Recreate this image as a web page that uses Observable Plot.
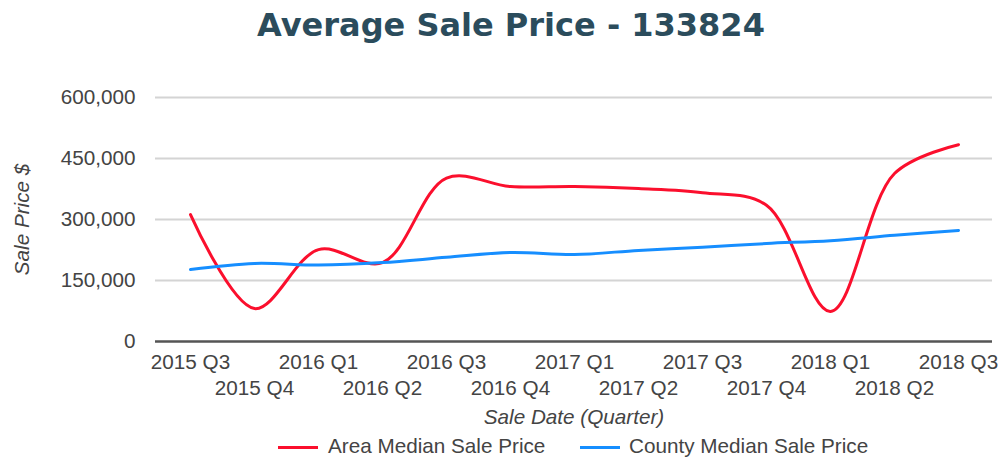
<!DOCTYPE html>
<html>
<head>
<meta charset="utf-8">
<script src="https://cdn.jsdelivr.net/npm/d3@7"></script>
<script src="https://cdn.jsdelivr.net/npm/@observablehq/plot@0.6"></script>
<style>
  html, body { margin: 0; padding: 0; background: #fff; }
  body { width: 1002px; height: 458px; overflow: hidden; font-family: "Liberation Sans", Arial, sans-serif; }
  #title { height: 56px; line-height: 50px; text-align: center; font-family: "DejaVu Sans", sans-serif; font-weight: 700; font-size: 32px; color: #2b4c5c; padding-left: 20px; box-sizing: border-box; }
  #legend { position: relative; height: 26px; font-size: 20.7px; color: #444; }
  #legend .sw { position: absolute; top: 14px; width: 40px; height: 3px; }
  #legend .lb { position: absolute; top: 3px; line-height: 22px; white-space: nowrap; }
</style>
</head>
<body>
<div id="title">Average Sale Price - 133824</div>
<div id="chart"></div>
<div id="legend"></div>
<script>
const quarters = ["2015 Q3","2015 Q4","2016 Q1","2016 Q2","2016 Q3","2016 Q4","2017 Q1","2017 Q2","2017 Q3","2017 Q4","2018 Q1","2018 Q2","2018 Q3"];
const areaMedian = [312000, 81000, 226000, 194000, 402000, 381000, 381000, 376000, 366000, 335000, 74000, 413000, 484000];
const countyMedian = [177000, 192000, 188000, 194000, 207000, 219000, 214000, 224000, 232000, 241000, 248000, 261000, 273000];
const seriesNames = ["Area Median Sale Price", "County Median Sale Price"];
const seriesColors = ["#fb0f2d", "#168eff"];
const yTicks = [0, 150000, 300000, 450000, 600000];

const rows = [];
quarters.forEach((q, i) => {
  rows.push({q, v: areaMedian[i], s: seriesNames[0]});
  rows.push({q, v: countyMedian[i], s: seriesNames[1]});
});

const txt = {fill: "#444", fontSize: 20.7};

const chart = Plot.plot({
  width: 1002,
  height: 376,
  marginLeft: 155,
  marginRight: 10,
  marginTop: 41,
  marginBottom: 91,
  style: {fontFamily: '"Liberation Sans", Arial, sans-serif', overflow: "visible", background: "#fff"},
  x: {type: "point", domain: quarters, range: [189, 958], padding: 0, axis: null},
  y: {domain: [0, 600000], axis: null},
  color: {domain: seriesNames, range: seriesColors},
  marks: [
    Plot.ruleY(yTicks.filter(d => d > 0), {stroke: "#d4d4d4", strokeWidth: 2}),
    Plot.axisY({ticks: yTicks, tickSize: 0, tickPadding: 20, tickFormat: d3.format(","), fontSize: 20.7, fill: "#444", label: null}),
    Plot.text(["Sale Price $"], {frameAnchor: "left", dx: -133, rotate: -90, textAnchor: "middle", fontStyle: "italic", ...txt}),
    Plot.text(quarters.filter((d, i) => i % 2 === 0), {x: d => d, text: d => d, frameAnchor: "bottom", dy: 27, lineAnchor: "bottom", ...txt}),
    Plot.text(quarters.filter((d, i) => i % 2 === 1), {x: d => d, text: d => d, frameAnchor: "bottom", dy: 53, lineAnchor: "bottom", ...txt}),
    Plot.text(["Sale Date (Quarter)"], {frameAnchor: "bottom", dy: 82, lineAnchor: "bottom", fontStyle: "italic", ...txt}),
    Plot.line(rows, {x: "q", y: "v", z: "s", stroke: "s", strokeWidth: 3, curve: "catmull-rom"}),
    Plot.ruleY([0], {stroke: "#555", strokeWidth: 2.5})
  ]
});
document.getElementById("chart").appendChild(chart);

const legend = document.getElementById("legend");
const legendPos = [[278, 328], [580, 629]];
seriesNames.forEach((name, i) => {
  const sw = document.createElement("div");
  sw.className = "sw";
  sw.style.left = legendPos[i][0] + "px";
  sw.style.background = seriesColors[i];
  legend.appendChild(sw);
  const lb = document.createElement("div");
  lb.className = "lb";
  lb.style.left = legendPos[i][1] + "px";
  lb.textContent = name;
  legend.appendChild(lb);
});
</script>
</body>
</html>
